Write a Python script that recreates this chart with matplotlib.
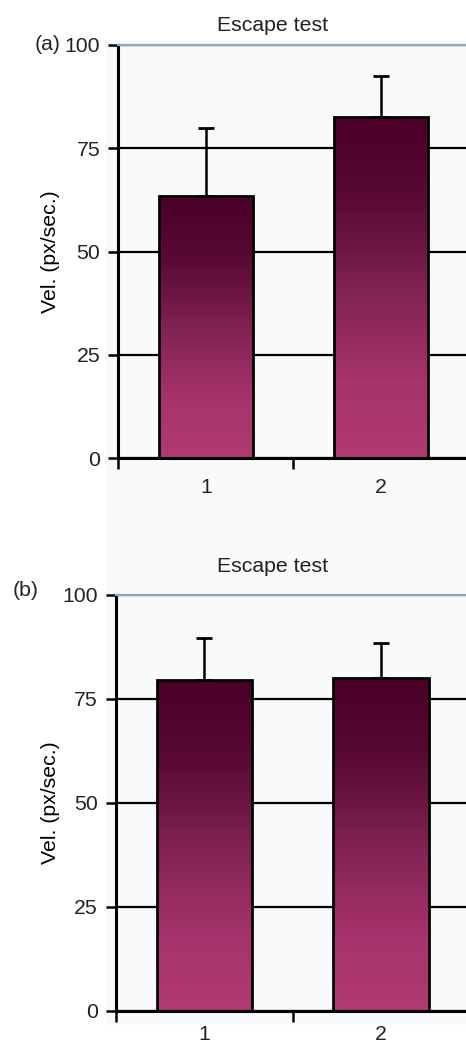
import numpy as np
import matplotlib
matplotlib.use("Agg")
import matplotlib.pyplot as plt
from matplotlib.colors import LinearSegmentedColormap
from matplotlib.patches import Rectangle

# Data: mean escape velocity per group with upper standard error
groups = ["1", "2"]
vel_a = [63.5, 82.6]
err_a = [16.3, 10.0]
vel_b = [79.5, 80.0]
err_b = [10.0, 8.3]
yticks = [0, 25, 50, 75, 100]
title = "Escape test"
ylabel = "Vel. (px/sec.)"

FS = 15.3
plt.rcParams["font.family"] = ["Liberation Sans", "DejaVu Sans"]
plt.rcParams["text.color"] = "#222222"
plt.rcParams["xtick.color"] = "#222222"
plt.rcParams["ytick.color"] = "#222222"

W, H = 466, 1047
fig = plt.figure(figsize=(W / 100, H / 100), dpi=100)

# faint panel backdrop behind the plotting region
fig.patches.append(Rectangle((105 / W, 1 - 1025 / H), 1, (1025 - 40) / H,
                             transform=fig.transFigure, facecolor="#f9fafc",
                             edgecolor="none", zorder=-10))

bar_cmap = LinearSegmentedColormap.from_list(
    "bar_grad",
    [(0.0, "#b03a72"), (0.22, "#a7346c"), (0.5, "#7f2252"),
     (0.75, "#5a0a35"), (1.0, "#4a0028")])


def draw_panel(ax, values, errors, tag, tag_xy, ylab_x, xpad, tpad, tx):
    x = np.arange(1, len(values) + 1)
    ax.set_facecolor("#f9fafc")
    bars = ax.bar(x, values, width=0.54, facecolor="none",
                  edgecolor="black", linewidth=2.0, zorder=3)
    grad = np.linspace(0, 1, 256).reshape(-1, 1)
    for b in bars:
        x0 = b.get_x()
        im = ax.imshow(grad, extent=[x0, x0 + b.get_width(), 0, b.get_height()],
                       origin="lower", cmap=bar_cmap, aspect="auto",
                       interpolation="bilinear", zorder=2)
        im.set_clip_path(b)
    ax.errorbar(x, values, yerr=[np.zeros(len(errors)), errors], fmt="none",
                ecolor="black", elinewidth=1.8, capsize=6, capthick=2.0,
                zorder=2.5)

    ax.set_xlim(0.5, 2.5)
    ax.set_ylim(0, 100)
    ax.set_yticks(yticks)
    ax.set_yticklabels([str(t) for t in yticks])
    ax.grid(axis="y", color="black", linewidth=1.6)
    ax.set_axisbelow(True)

    ax.set_xticks([0.5, 1.5, 2.5])
    ax.set_xticklabels([])
    ax.set_xticks(x, minor=True)
    ax.set_xticklabels(groups, minor=True)
    ax.tick_params(axis="x", which="major", direction="out", length=8,
                   width=1.8, color="black")
    ax.tick_params(axis="x", which="minor", length=0, pad=xpad, labelsize=FS)
    ax.tick_params(axis="y", direction="out", length=7, width=1.8,
                   color="black", pad=6, labelsize=FS)

    for side in ("left", "bottom"):
        ax.spines[side].set_color("black")
        ax.spines[side].set_linewidth(2.2)
    ax.spines["top"].set_color("#8aaabb")
    ax.spines["top"].set_linewidth(1.6)
    ax.spines["right"].set_visible(False)

    ax.set_title(title, fontsize=FS, pad=tpad, x=tx)
    ax.set_ylabel(ylabel, fontsize=FS)
    ax.yaxis.set_label_coords(ylab_x, 0.5)
    fig.text(tag_xy[0], tag_xy[1], tag, fontsize=FS, ha="left", va="center")


ax_a = fig.add_axes([118.3 / W, 1 - 458.3 / H, 350.4 / W, 413.3 / H])
draw_panel(ax_a, vel_a, err_a, "(a)", (35 / W, 1 - 45 / H), -0.166, 14, 10,
           0.4415)

ax_b = fig.add_axes([116 / W, 1 - 1010.7 / H, 353.3 / W, 416 / H])
draw_panel(ax_b, vel_b, err_b, "(b)", (13 / W, 1 - 590 / H), -0.158, 10, 16,
           0.444)

fig.savefig("out.png", dpi=100)
